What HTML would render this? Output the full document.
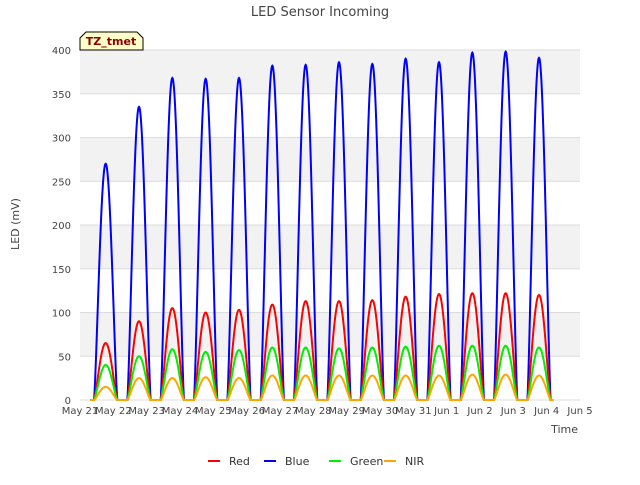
<!DOCTYPE html>
<html><head><meta charset="utf-8"><style>
body{margin:0;background:#fff;font-family:"Liberation Sans",sans-serif;}
svg text{font-family:"DejaVu Sans","Liberation Sans",sans-serif;}
</style></head><body>
<svg id="chart" width="640" height="480" xmlns="http://www.w3.org/2000/svg">
<rect x="0" y="0" width="640" height="480" fill="#fff"/>
<g id="bands"></g>
<g id="grid"></g>
<g id="series"></g>
<g id="axes"></g>
<text x="320" y="16" text-anchor="middle" font-size="13" fill="#444">LED Sensor Incoming</text>
<text x="19" y="224" text-anchor="middle" font-size="11" fill="#444" transform="rotate(-90 19 224)">LED (mV)</text>
<text x="578" y="433" text-anchor="end" font-size="11" fill="#444">Time</text>
<g>
<path d="M80,50 L80,38 L86,32 L137,32 L143,38 L143,50 Z" fill="#ffffc8" stroke="#000" stroke-width="1"/>
<text x="111" y="45" text-anchor="middle" font-size="11" font-weight="bold" fill="#8b0000">TZ_tmet</text>
</g>
<g id="legend"></g>
</svg>
<script>
const dayLabels=["May 21","May 22","May 23","May 24","May 25","May 26","May 27","May 28","May 29","May 30","May 31","Jun 1","Jun 2","Jun 3","Jun 4","Jun 5"];
const yTicks=[0,50,100,150,200,250,300,350,400];
const bluePeaks=[270,335,368,367,368,382,383,386,384,390,386,397,398,391];
const redPeaks=[65,90,105,100,103,109,113,113,114,118,121,122,122,120];
const greenPeaks=[40,50,58,55,57,60,60,59,60,61,62,62,62,60];
const nirPeaks=[15,25,25,26,25,28,28,28,28,28,28,29,29,28];
const seriesNames=["Red","Blue","Green","NIR"];
const seriesColors=["#ff0000","#0000ff","#00ee00","#ffa500"];

const X0=80,X1=580,Y0=400,Y1=50;
const xs=d=>X0+(X1-X0)*d/15;
const ys=v=>Y0-(Y0-Y1)*v/400;
const NS="http://www.w3.org/2000/svg";
function mk(tag,attrs,parent){const e=document.createElementNS(NS,tag);for(const k in attrs)e.setAttribute(k,attrs[k]);parent.appendChild(e);return e;}
const bands=document.getElementById('bands'),grid=document.getElementById('grid'),axes=document.getElementById('axes'),ser=document.getElementById('series'),leg=document.getElementById('legend');
for(let i=0;i<yTicks.length-1;i++){
  if(i%2===1){const r=mk('rect',{x:X0,y:ys(yTicks[i+1]),width:X1-X0,height:ys(yTicks[i])-ys(yTicks[i+1]),fill:'#f2f2f2'},bands);
  
  }
}
yTicks.forEach(v=>{
  const l=mk('line',{x1:X0,x2:X1,y1:ys(v),y2:ys(v),stroke:'#dcdcdc','stroke-width':1},grid);
  
  
  const t=mk('text',{x:X0-9,y:ys(v)+4,'text-anchor':'end','font-size':10,fill:'#444'},axes);t.textContent=v;
  
  
});
dayLabels.forEach((s,i)=>{
  const t=mk('text',{x:xs(i),y:414,'text-anchor':'middle','font-size':10,fill:'#444'},axes);t.textContent=s;
  
  
});
const all=[redPeaks,bluePeaks,greenPeaks,nirPeaks];
function shape(f){const c=0.77,w=0.35;const u=(f-c)/w;if(Math.abs(u)>=1)return 0;return Math.pow(Math.cos(u*Math.PI/2),1.3);}
[1,0,2,3].forEach(si=>{
  const pk=all[si];let d="";
  const start=0.3,end=14.2;
  for(let t=start;t<=end+1e-9;t+=0.01){
    let v=0;
    for(let k=0;k<pk.length;k++){const f=t-k;if(f>-0.5&&f<1.5)v+=pk[k]*shape(f);}
    d+=(d?"L":"M")+xs(t).toFixed(2)+","+ys(v).toFixed(2);
  }
  const p=mk('path',{d:d,fill:'none',stroke:seriesColors[si],'stroke-width':2},ser);
  
  
});
const lx=[210,266,331,386];
seriesNames.forEach((n,i)=>{
  const g=mk('g',{},leg);
  
  
  mk('line',{x1:lx[i]-2,x2:lx[i]+10,y1:461,y2:461,stroke:seriesColors[i],'stroke-width':2},g);
  const t=mk('text',{x:lx[i]+19,y:465,'font-size':11,fill:'#333'},g);t.textContent=n;
});
</script>
</body></html>
